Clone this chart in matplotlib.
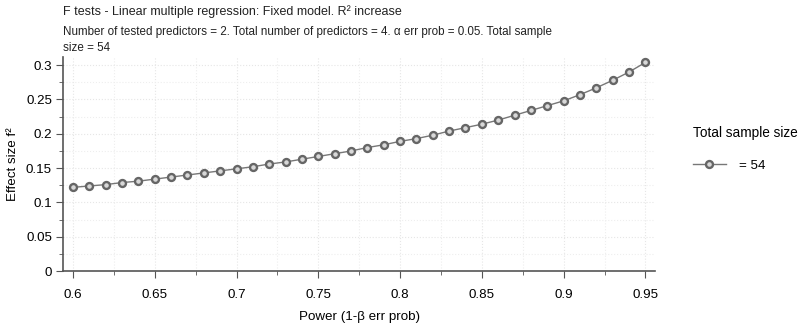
import matplotlib
matplotlib.use("Agg")
import matplotlib.pyplot as plt
from matplotlib.ticker import MultipleLocator

plt.rcParams['font.family'] = ['Liberation Sans', 'DejaVu Sans']

# power (1-beta) and effect size f2
power = [0.60, 0.61, 0.62, 0.63, 0.64, 0.65, 0.66, 0.67, 0.68, 0.69,
         0.70, 0.71, 0.72, 0.73, 0.74, 0.75, 0.76, 0.77, 0.78, 0.79,
         0.80, 0.81, 0.82, 0.83, 0.84, 0.85, 0.86, 0.87, 0.88, 0.89,
         0.90, 0.91, 0.92, 0.93, 0.94, 0.95]
f2 = [0.122, 0.124, 0.126, 0.129, 0.131, 0.134, 0.137, 0.140, 0.143, 0.146,
      0.149, 0.152, 0.156, 0.159, 0.163, 0.167, 0.171, 0.175, 0.180, 0.184,
      0.189, 0.193, 0.198, 0.204, 0.209, 0.214, 0.220, 0.227, 0.234, 0.241,
      0.248, 0.257, 0.267, 0.278, 0.290, 0.304]
xtick_labels = ['0.6', '0.65', '0.7', '0.75', '0.8', '0.85', '0.9', '0.95']
ytick_labels = ['0', '0.05', '0.1', '0.15', '0.2', '0.25', '0.3']
series_label = "= 54"

fig = plt.figure(figsize=(8, 3.31), dpi=100)
ax = fig.add_axes([0.079, 0.181, 0.740, 0.647])

ax.plot(power, f2, color='#777777', lw=1, marker='o', ms=5,
        mfc='#d8d8d8', mec='#666666', mew=1.7, label=series_label)

ax.set_xlim(0.594, 0.956)
ax.set_ylim(0, 0.312)
ax.xaxis.set_minor_locator(MultipleLocator(0.025))
ax.yaxis.set_minor_locator(MultipleLocator(0.025))
ax.set_xticks([float(t) for t in xtick_labels])
ax.set_xticklabels(xtick_labels)
ax.set_yticks([float(t) for t in ytick_labels])
ax.set_yticklabels(ytick_labels)

ax.grid(which='major', color='#e6e6e6', lw=0.8, ls=':')
ax.grid(which='minor', color='#eeeeee', lw=0.8, ls=':')
for s in ['top', 'right']:
    ax.spines[s].set_visible(False)
for s in ['left', 'bottom']:
    ax.spines[s].set_color('#555555')
    ax.spines[s].set_linewidth(1.2)
ax.tick_params(which='major', length=5, color='#555555', labelsize=9.6)
ax.tick_params(which='minor', length=3, color='#555555')
ax.tick_params(axis='x', which='major', pad=8)
ax.tick_params(axis='y', which='major', pad=3)

ax.set_xlabel('Power (1-β err prob)', fontsize=9.6, labelpad=7)
ax.set_ylabel('Effect size f²', fontsize=9.6, labelpad=5)

fig.text(0.079, 0.965, 'F tests - Linear multiple regression: Fixed model. R² increase',
         fontsize=9, va='center', color='#222222')
fig.text(0.079, 0.903, 'Number of tested predictors = 2. Total number of predictors = 4. α err prob = 0.05. Total sample',
         fontsize=8.4, va='center', color='#222222')
fig.text(0.079, 0.855, 'size = 54', fontsize=8.4, va='center', color='#222222')

fig.legend(loc='upper left', bbox_to_anchor=(0.866, 0.62), frameon=False,
           title='Total sample size', title_fontsize=9.8, fontsize=9.6,
           alignment='left', handlelength=2.5, handletextpad=1.0,
           borderpad=0, borderaxespad=0, labelspacing=1.5)

fig.savefig('out.png', dpi=100)
